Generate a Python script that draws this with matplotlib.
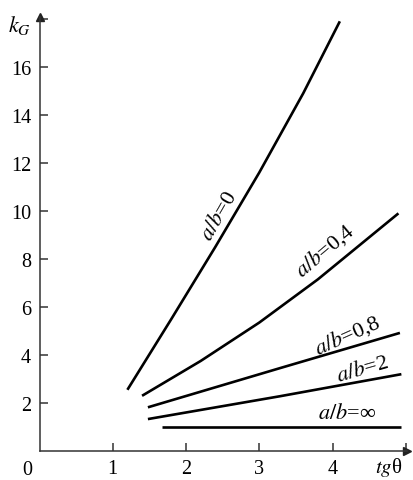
#k_G vs tg(theta) for several a/b ratios
import matplotlib
matplotlib.use('Agg')
import matplotlib.pyplot as plt

plt.rcParams['font.family'] = ['Liberation Serif', 'DejaVu Serif']
plt.rcParams['mathtext.fontset'] = 'stix'

# curves
x_ab0 = [1.2, 1.8, 2.4, 3.0, 3.6, 4.1]
y_ab0 = [2.55, 5.5, 8.5, 11.6, 14.9, 17.9]

x_ab04 = [1.4, 2.2, 3.0, 3.8, 4.9]
y_ab04 = [2.3, 3.75, 5.35, 7.15, 9.9]

x_ab08 = [1.48, 3.28, 4.92]
y_ab08 = [1.82, 3.45, 4.92]

x_ab2 = [1.48, 3.28, 4.94]
y_ab2 = [1.33, 2.28, 3.2]

x_abinf = [1.67, 4.93]
y_abinf = [1.0, 1.0]

labels = [r'$a/b$=0', r'$a/b$=0,4', r'$a/b$=0,8', r'$a/b$=2', r'$a/b$=∞']
label_x = [2.46, 3.89, 4.2, 4.41, 4.2]
label_y = [9.8, 8.4, 4.85, 3.4, 1.6]
label_rot = [60, 40, 24, 16, 0]

xticks = [1, 2, 3, 4, 5]
xticklabels = ['1', '2', '3', '4', '']
yticks = [2, 4, 6, 8, 10, 12, 14, 16, 18]
yticklabels = ['2', '4', '6', '8', '10', '12', '14', '16', '']

fig = plt.figure(figsize=(4.13, 4.81), dpi=100)
ax = fig.add_axes([39.5/413, 29/481, 367/413, 434/481])

for xs, ys in [(x_ab0, y_ab0), (x_ab04, y_ab04), (x_ab08, y_ab08),
               (x_ab2, y_ab2), (x_abinf, y_abinf)]:
    ax.plot(xs, ys, color='black', lw=1.9, solid_capstyle='butt')

for t, lx, ly, r in zip(labels, label_x, label_y, label_rot):
    ax.text(lx, ly, t, rotation=r, fontsize=16, ha='center', va='center',
            rotation_mode='anchor')

ax.set_xlim(0, 5.01)
ax.set_ylim(0, 18.08)
ax.spines['top'].set_visible(False)
ax.spines['right'].set_visible(False)
for s in ['left', 'bottom']:
    ax.spines[s].set_color('#333333')
    ax.spines[s].set_linewidth(1.1)

ax.set_xticks(xticks)
ax.set_xticklabels(xticklabels)
ax.set_yticks(yticks)
ax.set_yticklabels(yticklabels)
ax.tick_params(direction='in', length=6, width=1.1, color='#333333',
               labelsize=14.5, pad=6)

# arrow heads on the axes
ax.plot(0, 1, marker='^', color='#222222', ms=6, transform=ax.transAxes, clip_on=False)
ax.plot(1, 0, marker='>', color='#222222', ms=6, transform=ax.transAxes, clip_on=False)

ax.annotate('0', xy=(0, 0), xycoords='axes fraction', xytext=(-12, -19),
            textcoords='offset pixels', fontsize=14.5, ha='center', va='center')
ax.annotate(r'$k_G$', xy=(0, 1), xycoords='axes fraction', xytext=(-20, -8),
            textcoords='offset pixels', fontsize=16, ha='center', va='center')
ax.annotate(r'$tg$θ', xy=(1, 0), xycoords='axes fraction', xytext=(-18, -16),
            textcoords='offset pixels', fontsize=15, ha='center', va='center')

fig.savefig('out.png', dpi=100)
